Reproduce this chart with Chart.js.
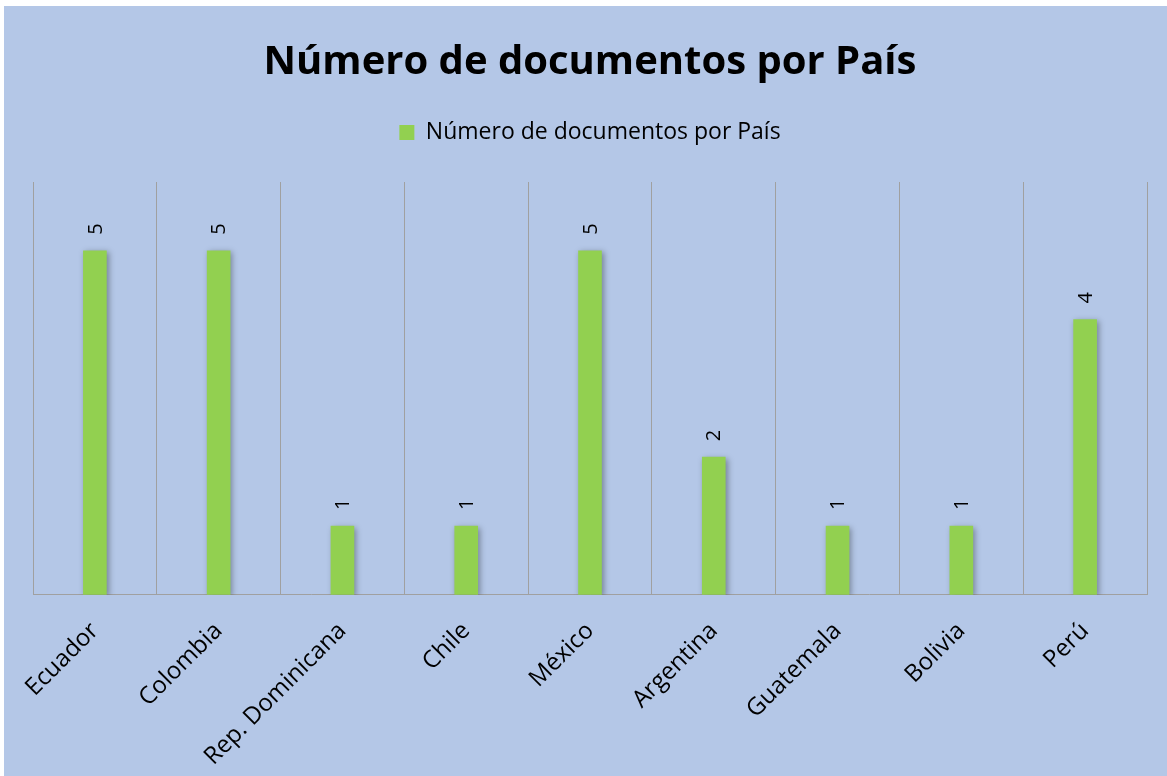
<!DOCTYPE html>
<html>
<head>
<meta charset="utf-8">
<script src="https://cdn.jsdelivr.net/npm/chart.js@4"></script>
<style>
  html, body { margin: 0; padding: 0; background: #ffffff; }
  #wrap { position: absolute; left: 4px; top: 6px; width: 1163px; height: 770px; background: #b4c7e7; }
</style>
</head>
<body>
<div id="wrap"><canvas id="myChart" width="1163" height="770"></canvas></div>
<script>
// Chart data
const countries = ['Ecuador', 'Colombia', 'Rep. Dominicana', 'Chile', 'México', 'Argentina', 'Guatemala', 'Bolivia', 'Perú'];
const docCounts = [5, 5, 1, 1, 5, 2, 1, 1, 4];
const seriesName = 'Número de documentos por País';

const fontFamily = "'Open Sans', 'Noto Sans', sans-serif";

// Extra room below the legend
const legendGap = {
    id: 'legendGap',
    beforeInit(chart) {
        const originalFit = chart.legend.fit;
        chart.legend.fit = function() {
            originalFit.bind(chart.legend)();
            this.height += 28;
        };
    }
};

// Soft shadow behind the bars
const barShadow = {
    id: 'barShadow',
    beforeDatasetsDraw(chart) {
        const ctx = chart.ctx;
        ctx.save();
        ctx.shadowColor = 'rgba(0, 0, 0, 0.35)';
        ctx.shadowBlur = 6;
        ctx.shadowOffsetX = 2;
        ctx.shadowOffsetY = 2;
    },
    afterDatasetsDraw(chart) {
        chart.ctx.restore();
    }
};

// Rotated value labels above each bar
const valueLabels = {
    id: 'valueLabels',
    afterDraw(chart) {
        const ctx = chart.ctx;
        const meta = chart.getDatasetMeta(0);
        ctx.save();
        ctx.fillStyle = '#000000';
        ctx.font = '20px ' + fontFamily;
        ctx.textAlign = 'left';
        ctx.textBaseline = 'middle';
        meta.data.forEach(function(bar, i) {
            ctx.save();
            ctx.translate(bar.x + 1, bar.y - 16);
            ctx.rotate(-Math.PI / 2);
            ctx.fillText(String(docCounts[i]), 0, 0);
            ctx.restore();
        });
        ctx.restore();
    }
};

new Chart(document.getElementById('myChart'), {
    type: 'bar',
    data: {
        labels: countries,
        datasets: [{
            label: seriesName,
            data: docCounts,
            backgroundColor: '#92d050',
            borderWidth: 0,
            barThickness: 23
        }]
    },
    options: {
        responsive: false,
        animation: false,
        layout: {
            padding: { left: 29, right: 20, top: 33, bottom: 5 }
        },
        plugins: {
            title: {
                display: true,
                text: seriesName,
                color: '#000000',
                font: { family: fontFamily, size: 40, weight: 'bold' },
                padding: { top: 0, bottom: 28 }
            },
            legend: {
                position: 'top',
                labels: {
                    color: '#000000',
                    font: { family: fontFamily, size: 23 },
                    boxWidth: 15,
                    boxHeight: 15,
                    padding: 6
                },
                onClick: null
            },
            tooltip: { enabled: false }
        },
        scales: {
            x: {
                grid: {
                    display: true,
                    offset: true,
                    color: '#a0a0a0',
                    drawTicks: false
                },
                border: { display: true, color: '#a0a0a0' },
                ticks: {
                    color: '#000000',
                    font: { family: fontFamily, size: 24 },
                    minRotation: 45,
                    maxRotation: 45,
                    padding: 22
                },
                afterFit: function(scale) {
                    // labels need less room than the default estimate
                    scale.height -= 22;
                }
            },
            y: {
                display: false,
                min: 0,
                max: 6
            }
        }
    },
    plugins: [legendGap, barShadow, valueLabels]
});
</script>
</body>
</html>
